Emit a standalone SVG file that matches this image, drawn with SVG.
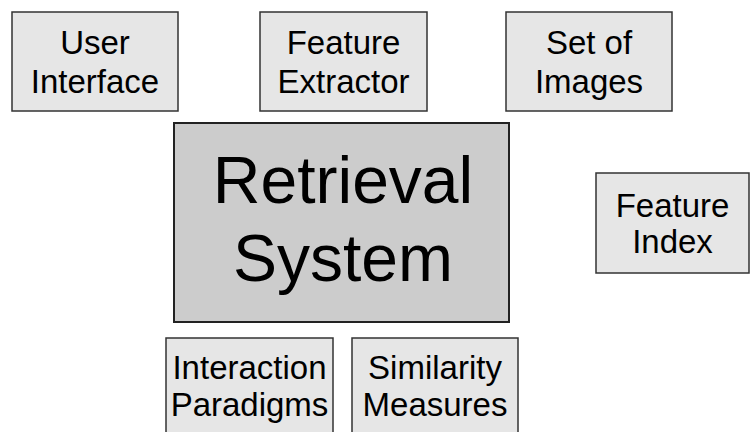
<svg xmlns="http://www.w3.org/2000/svg" width="751" height="432" viewBox="0 0 751 432">
<style>
.box{fill:#e6e6e6;stroke:#333333;stroke-width:1.5}
.big{fill:#cccccc;stroke:#222222;stroke-width:2}
text{font-family:"Liberation Sans",Arial,sans-serif;fill:#000;text-anchor:middle}
.s{font-size:33px}
.l{font-size:66px}
</style>
<rect width="751" height="432" fill="#ffffff"/>
<g id="connectors"></g>
<g id="user-interface">
<rect class="box" x="12" y="12" width="166" height="99"/>
<text class="s" x="95" y="54">User</text>
<text class="s" x="95" y="93">Interface</text>
</g>
<g id="feature-extractor">
<rect class="box" x="260" y="12" width="167" height="99"/>
<text class="s" x="343.5" y="54">Feature</text>
<text class="s" x="343.5" y="93">Extractor</text>
</g>
<g id="set-of-images">
<rect class="box" x="506" y="12" width="166" height="99"/>
<text class="s" x="589" y="54">Set of</text>
<text class="s" x="589" y="93">Images</text>
</g>
<g id="retrieval-system">
<rect class="big" x="174" y="123" width="335" height="199"/>
<text class="l" x="343" y="203">Retrieval</text>
<text class="l" x="343" y="281">System</text>
</g>
<g id="feature-index">
<rect class="box" x="596" y="173" width="153" height="100"/>
<text class="s" x="672.5" y="217">Feature</text>
<text class="s" x="672.5" y="253">Index</text>
</g>
<g id="interaction-paradigms">
<rect class="box" x="166" y="338" width="167" height="110"/>
<text class="s" x="249.5" y="379">Interaction</text>
<text class="s" x="249.5" y="416">Paradigms</text>
</g>
<g id="similarity-measures">
<rect class="box" x="352" y="338" width="166" height="110"/>
<text class="s" x="435" y="379">Similarity</text>
<text class="s" x="435" y="416">Measures</text>
</g>
</svg>
